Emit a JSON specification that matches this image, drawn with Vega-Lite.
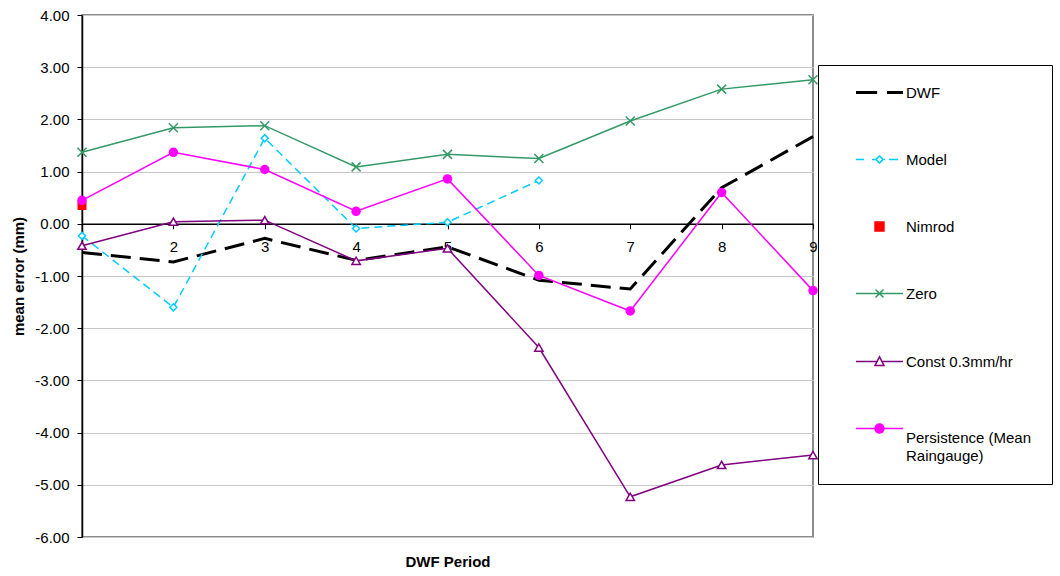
{
  "$schema": "https://vega.github.io/schema/vega-lite/v6.json",
  "autosize": "none",
  "padding": {"left": 82, "top": 15, "right": 247, "bottom": 39},
  "width": 731,
  "height": 522,
  "background": "white",
  "config": {
    "view": {"stroke": "#8c8c8c", "strokeWidth": 2},
    "font": "Liberation Sans"
  },
  "data": {
    "values": [
      {"series": "DWF", "period": 1, "value": -0.55},
      {"series": "DWF", "period": 2, "value": -0.73},
      {"series": "DWF", "period": 3, "value": -0.28},
      {"series": "DWF", "period": 4, "value": -0.70},
      {"series": "DWF", "period": 5, "value": -0.44},
      {"series": "DWF", "period": 6, "value": -1.08},
      {"series": "DWF", "period": 7, "value": -1.25},
      {"series": "DWF", "period": 8, "value": 0.69},
      {"series": "DWF", "period": 9, "value": 1.67},
      {"series": "Model", "period": 1, "value": -0.23},
      {"series": "Model", "period": 2, "value": -1.60},
      {"series": "Model", "period": 3, "value": 1.64},
      {"series": "Model", "period": 4, "value": -0.09},
      {"series": "Model", "period": 5, "value": 0.03},
      {"series": "Model", "period": 6, "value": 0.83},
      {"series": "Nimrod", "period": 1, "value": 0.35},
      {"series": "Zero", "period": 1, "value": 1.37},
      {"series": "Zero", "period": 2, "value": 1.84},
      {"series": "Zero", "period": 3, "value": 1.88},
      {"series": "Zero", "period": 4, "value": 1.09},
      {"series": "Zero", "period": 5, "value": 1.33},
      {"series": "Zero", "period": 6, "value": 1.25},
      {"series": "Zero", "period": 7, "value": 1.97},
      {"series": "Zero", "period": 8, "value": 2.58},
      {"series": "Zero", "period": 9, "value": 2.76},
      {"series": "Const 0.3mm/hr", "period": 1, "value": -0.42},
      {"series": "Const 0.3mm/hr", "period": 2, "value": 0.04},
      {"series": "Const 0.3mm/hr", "period": 3, "value": 0.07},
      {"series": "Const 0.3mm/hr", "period": 4, "value": -0.71},
      {"series": "Const 0.3mm/hr", "period": 5, "value": -0.47},
      {"series": "Const 0.3mm/hr", "period": 6, "value": -2.37},
      {"series": "Const 0.3mm/hr", "period": 7, "value": -5.23},
      {"series": "Const 0.3mm/hr", "period": 8, "value": -4.62},
      {"series": "Const 0.3mm/hr", "period": 9, "value": -4.43},
      {"series": "Persistence (Mean Raingauge)", "period": 1, "value": 0.45},
      {"series": "Persistence (Mean Raingauge)", "period": 2, "value": 1.37},
      {"series": "Persistence (Mean Raingauge)", "period": 3, "value": 1.04},
      {"series": "Persistence (Mean Raingauge)", "period": 4, "value": 0.24},
      {"series": "Persistence (Mean Raingauge)", "period": 5, "value": 0.86},
      {"series": "Persistence (Mean Raingauge)", "period": 6, "value": -0.99},
      {"series": "Persistence (Mean Raingauge)", "period": 7, "value": -1.67},
      {"series": "Persistence (Mean Raingauge)", "period": 8, "value": 0.60},
      {"series": "Persistence (Mean Raingauge)", "period": 9, "value": -1.28}
    ]
  },
  "encoding": {
    "x": {
      "field": "period", "type": "quantitative",
      "scale": {"domain": [1, 9], "nice": false, "zero": false},
      "axis": {
        "title": "DWF Period",
        "values": [1, 2, 3, 4, 5, 6, 7, 8, 9],
        "labelExpr": "datum.value == 1 ? '' : datum.label",
        "offset": -313.2,
        "grid": false,
        "domainColor": "black", "domainWidth": 1.5,
        "tickColor": "black", "tickSize": 5, "tickWidth": 1,
        "labelFont": "Liberation Sans", "labelFontSize": 15, "labelColor": "black",
        "labelPadding": 11, "labelFlush": false, "labelOverlap": false,
        "titleFont": "Liberation Sans", "titleFontSize": 15, "titleFontWeight": "bold", "titleColor": "black",
        "titlePadding": 300
      }
    },
    "y": {
      "field": "value", "type": "quantitative",
      "scale": {"domain": [-6, 4], "nice": false, "zero": false},
      "axis": {
        "title": "mean error (mm)",
        "values": [-6, -5, -4, -3, -2, -1, 0, 1, 2, 3, 4],
        "format": ".2f",
        "labelExpr": "replace(datum.label, '\u2212', '-')",
        "grid": true, "gridColor": "#c8c8c8", "gridWidth": 1,
        "domainColor": "black", "domainWidth": 1.5,
        "tickColor": "black", "tickSize": 5,
        "labelFont": "Liberation Sans", "labelFontSize": 15, "labelColor": "black",
        "labelPadding": 8, "labelFlush": false, "labelOverlap": false,
        "titleFont": "Liberation Sans", "titleFontSize": 15, "titleFontWeight": "bold", "titleColor": "black",
        "titlePadding": 8
      }
    },
    "color": {
      "field": "series", "type": "nominal",
      "scale": {
        "domain": ["DWF", "Model", "Nimrod", "Zero", "Const 0.3mm/hr", "Persistence (Mean Raingauge)"],
        "range": ["#000000", "#00CCFF", "#FF0000", "#339966", "#800080", "#FF00FF"]
      },
      "legend": null
    }
  },
  "layer": [
    {
      "transform": [{"filter": "datum.series == 'DWF'"}],
      "mark": {"type": "line", "strokeWidth": 3, "strokeDash": [20, 9]},
      "encoding": {
        "color": {
          "field": "series", "type": "nominal",
          "legend": {
            "title": null,
            "orient": "none", "legendX": 736, "legendY": 50,
            "padding": 20,
            "strokeColor": "black", "fillColor": "white",
            "symbolSize": 2209, "symbolOffset": 34, "labelOffset": 19,
            "rowPadding": 51,
            "labelFont": "Liberation Sans", "labelFontSize": 15, "labelColor": "black", "labelLimit": 300,
            "labelExpr": "datum.label == 'Persistence (Mean Raingauge)' ? ['Persistence (Mean', 'Raingauge)'] : datum.label",
            "encode": {
              "symbols": {
                "update": {
                  "shape": {"signal": "{'DWF': 'M-1,0H-0.1M0.32,0H1', 'Model': 'M-1,0H-0.66M-0.32,0H-0.15M0.15,0H0.23M0.4,0H0.79M-0.15,0L0,-0.15L0.15,0L0,0.15ZM-0.15,0L0,0.15L0.15,0L0,-0.15Z', 'Nimrod': 'M-0.19,-0.19H0.19V0.19H-0.19Z', 'Zero': 'M-1,0H1M-0.17,-0.17L0.17,0.17M-0.17,0.17L0.17,-0.17', 'Const 0.3mm/hr': 'M-1,0H-0.11M0.11,0H1M-0.19,0.17L0,-0.2L0.19,0.17ZM-0.19,0.17L0.19,0.17L0,-0.2Z', 'Persistence (Mean Raingauge)': 'M-1,0H1M0.19,0A0.19,0.19 0 1,1 -0.19,0A0.19,0.19 0 1,1 0.19,0Z'}[datum.value]"},
                  "strokeWidth": {"signal": "datum.value == 'DWF' ? 3 : 1.5"},
                  "strokeDash": {"value": [1, 0]},
                  "size": {"value": 2209},
                  "opacity": {"value": 1}
                }
              },
              "labels": {
                "update": {
                  "dy": {"signal": "datum.value == 'Persistence (Mean Raingauge)' ? 9 : 0"},
                  "lineHeight": {"value": 18}
                }
              }
            }
          }
        }
      }
    },
    {
      "transform": [{"filter": "datum.series == 'Model'"}],
      "mark": {"type": "line", "strokeWidth": 1.5, "strokeDash": [8, 5]}
    },
    {
      "transform": [{"filter": "datum.series == 'Zero' || datum.series == 'Const 0.3mm/hr' || datum.series == 'Persistence (Mean Raingauge)'"}],
      "mark": {"type": "line", "strokeWidth": 1.5}
    },
    {
      "transform": [{"filter": "datum.series == 'Model'"}],
      "mark": {"type": "point", "shape": "diamond", "size": 50, "filled": false, "fill": "white", "strokeWidth": 1.5, "opacity": 1}
    },
    {
      "transform": [{"filter": "datum.series == 'Const 0.3mm/hr'"}],
      "mark": {"type": "point", "shape": "triangle-up", "size": 70, "filled": false, "fill": "white", "strokeWidth": 1.5, "opacity": 1}
    },
    {
      "transform": [{"filter": "datum.series == 'Zero'"}],
      "mark": {"type": "point", "shape": "M-1,-1L1,1M-1,1L1,-1", "size": 81, "filled": false, "strokeWidth": 1.5, "opacity": 1}
    },
    {
      "transform": [{"filter": "datum.series == 'Nimrod'"}],
      "mark": {"type": "point", "shape": "square", "size": 81, "filled": true, "opacity": 1}
    },
    {
      "transform": [{"filter": "datum.series == 'Persistence (Mean Raingauge)'"}],
      "mark": {"type": "point", "shape": "circle", "size": 90, "filled": true, "opacity": 1}
    }
  ]
}
